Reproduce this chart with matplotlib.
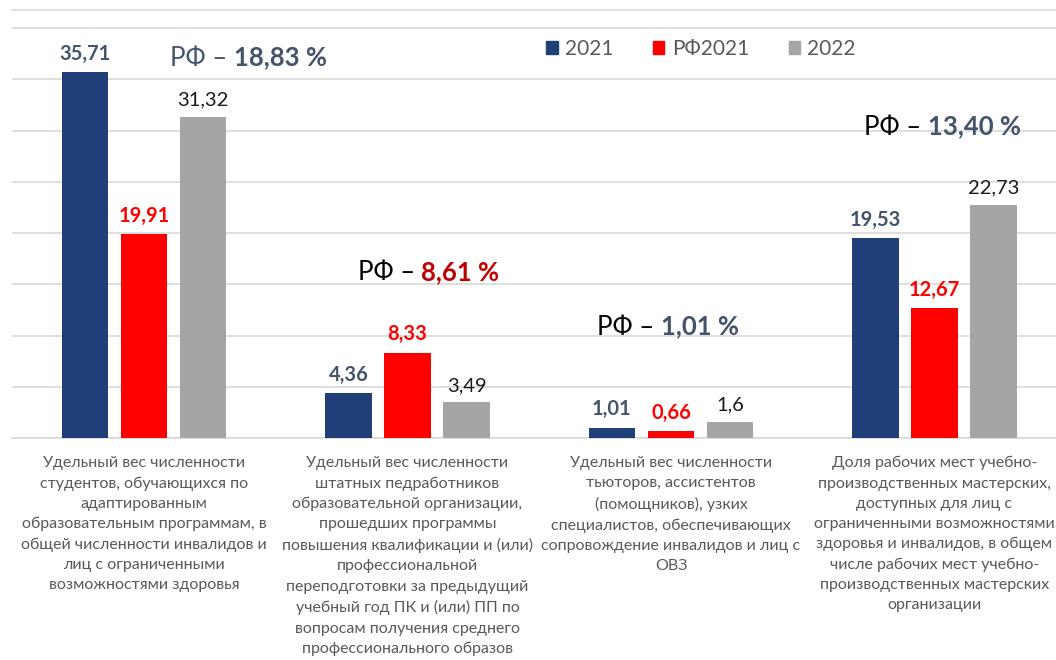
import matplotlib
matplotlib.use("Agg")
import matplotlib.pyplot as plt
import numpy as np
from matplotlib.offsetbox import TextArea, HPacker, AnnotationBbox
from matplotlib.patches import Patch

plt.rcParams['font.family'] = ['Lato', 'DejaVu Sans']

categories = [
    "Удельный вес численности\nстудентов, обучающихся по\nадаптированным\nобразовательным программам, в\nобщей численности инвалидов и\nлиц с ограниченными\nвозможностями здоровья",
    "Удельный вес численности\nштатных педработников\nобразовательной организации,\nпрошедших программы\nповышения квалификации и (или)\nпрофессиональной\nпереподготовки за предыдущий\nучебный год ПК и (или) ПП по\nвопросам получения среднего\nпрофессионального образов",
    "Удельный вес численности\nтьюторов, ассистентов\n(помощников), узких\nспециалистов, обеспечивающих\nсопровождение инвалидов и лиц с\nОВЗ",
    "Доля рабочих мест учебно-\nпроизводственных мастерских,\nдоступных для лиц с\nограниченными возможностями\nздоровья и инвалидов, в общем\nчисле рабочих мест учебно-\nпроизводственных мастерских\nорганизации",
]
series_names = ["2021", "РФ2021", "2022"]
values_2021 = [35.71, 4.36, 1.01, 19.53]
values_rf2021 = [19.91, 8.33, 0.66, 12.67]
values_2022 = [31.32, 3.49, 1.6, 22.73]
value_labels_2021 = ["35,71", "4,36", "1,01", "19,53"]
value_labels_rf2021 = ["19,91", "8,33", "0,66", "12,67"]
value_labels_2022 = ["31,32", "3,49", "1,6", "22,73"]
rf_values = ["18,83 %", "8,61 %", "1,01 %", "13,40 %"]

navy = "#203F79"
red = "#FF0000"
gray = "#A5A5A5"
slate = "#44546A"
darkred = "#C00000"
txtgray = "#595959"

fig = plt.figure(figsize=(10.56, 6.6), dpi=100)
ax = fig.add_axes([12.25/1056, (660-438)/660, 1054/1056, 428/660])

x = np.arange(len(categories))
w = 0.175
step = 0.224
series = [(values_2021, value_labels_2021, navy, slate, 'bold'),
          (values_rf2021, value_labels_rf2021, red, red, 'bold'),
          (values_2022, value_labels_2022, gray, '#1a1a1a', 'normal')]
for i, (vals, labs, col, tcol, fw) in enumerate(series):
    bars = ax.bar(x + (i-1)*step, vals, width=w, color=col, zorder=3)
    for b, lab in zip(bars, labs):
        ax.annotate(lab, (b.get_x()+b.get_width()/2, b.get_height()),
                    xytext=(0, 6), textcoords='offset points',
                    ha='center', va='bottom', fontsize=14.5,
                    color=tcol, fontweight=fw)

ax.set_xlim(-0.5, 3.5)
ax.set_ylim(0, 41.76)
ax.set_yticks(np.arange(0, 41, 5))
ax.yaxis.grid(True, color="#D9D9D9", linewidth=1.2, zorder=0)
ax.tick_params(axis='y', left=False, labelleft=False)
ax.set_xticks(x)
ax.set_xticklabels(categories, fontsize=11.5, color=txtgray, linespacing=1.56)
ax.tick_params(axis='x', length=0, pad=13)
for s in ['left', 'right']:
    ax.spines[s].set_visible(False)
ax.spines['bottom'].set_color("#D9D9D9")
ax.spines['bottom'].set_linewidth(1.2)
ax.spines['top'].set_color("#D9D9D9")
ax.spines['top'].set_linewidth(1.2)

# РФ annotations
rf_pos = [(0.395, 37.07), (1.08, 16.1), (1.987, 10.83), (3.03, 30.34)]
rf_prefix_colors = [slate, 'black', 'black', 'black']
rf_value_colors = [slate, darkred, slate, slate]
for (px, py), val, pc, vc in zip(rf_pos, rf_values, rf_prefix_colors, rf_value_colors):
    t1 = TextArea("РФ – ", textprops=dict(fontsize=18.5, color=pc))
    t2 = TextArea(val, textprops=dict(fontsize=18.5, color=vc, fontweight='bold'))
    box = HPacker(children=[t1, t2], pad=0, sep=0, align='baseline')
    ab = AnnotationBbox(box, (px, py), frameon=False, box_alignment=(0.5, 0.5), pad=0)
    ax.add_artist(ab)

handles = [Patch(color=c) for c in [navy, red, gray]]
fig.legend(handles, series_names, loc='center', bbox_to_anchor=(701/1056, 1-49/660),
           ncol=3, frameon=False, fontsize=15, labelcolor=txtgray,
           handlelength=0.55, handleheight=0.55, handletextpad=0.35, columnspacing=1.9)

fig.savefig("out.png", dpi=100)
